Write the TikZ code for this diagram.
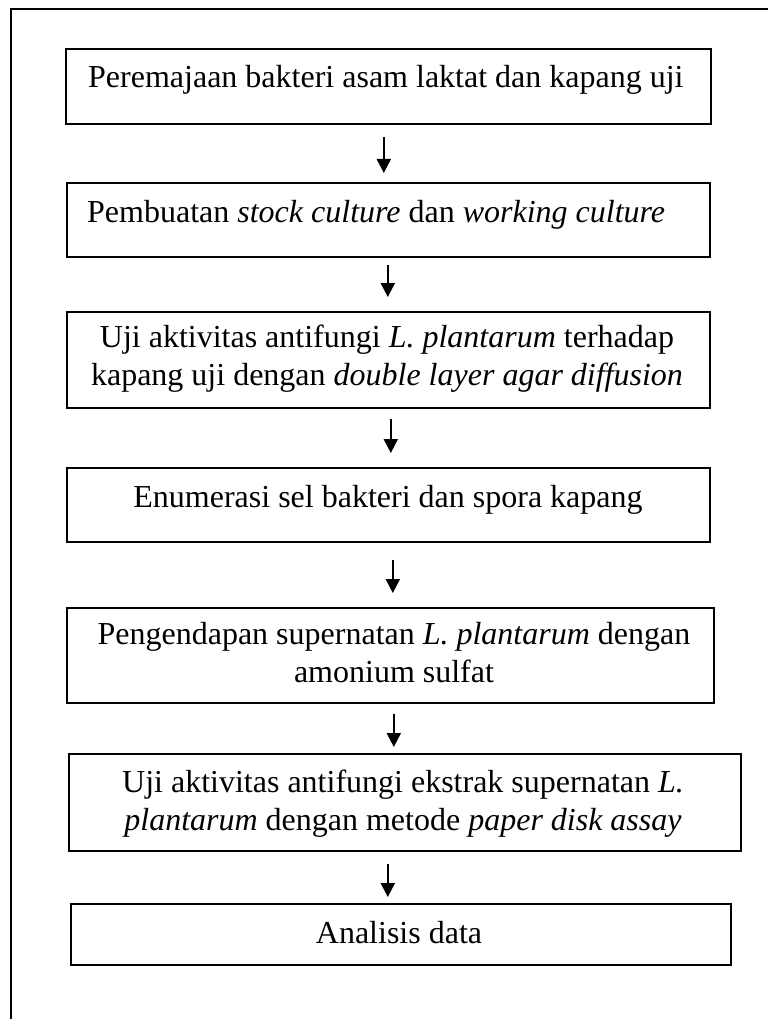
\documentclass[tikz,border=0pt]{standalone}
\usepackage{fontspec}
\setmainfont{Liberation Serif}
\usetikzlibrary{arrows.meta}
\begin{document}
\begin{tikzpicture}[x=1pt,y=-1pt,
  box/.style={draw=black,line width=1.6pt,inner sep=0pt,anchor=north west,fill=none},
  txt/.style={inner sep=0pt,font=\fontsize{32}{37.5}\selectfont,align=center},
  arr/.style={line width=2pt,-{Triangle[width=14pt,length=14pt]}}]
\useasboundingbox[fill=white] (0,0) rectangle (768,1019);
% outer frame
\draw[line width=1.5pt] (11,1019) -- (11,9) -- (768,9);
% boxes
\node[box,minimum width=645pt,minimum height=75pt] (b1) at (65,48) {};
\node[box,minimum width=643pt,minimum height=74pt] (b2) at (66,182) {};
\node[box,minimum width=643pt,minimum height=96pt] (b3) at (66,311) {};
\node[box,minimum width=643pt,minimum height=74pt] (b4) at (66,467) {};
\node[box,minimum width=647pt,minimum height=95pt] (b5) at (66,607) {};
\node[box,minimum width=672pt,minimum height=97pt] (b6) at (68,753) {};
\node[box,minimum width=660pt,minimum height=61pt] (b7) at (70,903) {};
% texts
\node[txt,anchor=base west] (t1) at (88,88) {Peremajaan bakteri asam laktat dan kapang uji};
\node[txt,anchor=base west] (t2) at (87,222) {Pembuatan \textit{stock culture} dan \textit{working culture}};
\node[txt,anchor=base] (t3) at (387,385) {Uji aktivitas antifungi \textit{L. plantarum} terhadap\\kapang uji dengan \textit{double layer agar diffusion}};
\node[txt,anchor=base] (t4) at (388,507) {Enumerasi sel bakteri dan spora kapang};
\node[txt,anchor=base] (t5) at (394,682) {Pengendapan supernatan \textit{L. plantarum} dengan\\amonium sulfat};
\node[txt,anchor=base] (t6) at (403,830) {Uji aktivitas antifungi ekstrak supernatan \textit{L.}\\\textit{plantarum} dengan metode \textit{paper disk assay}};
\node[txt,anchor=base] (t7) at (399,943) {Analisis data};
% arrows
\draw[arr] ([xshift=-4.5pt,yshift=-12pt]b1.south) -- ([xshift=-4.5pt,yshift=9pt]b2.north);
\draw[arr] ([xshift=-0.5pt,yshift=-7pt]b2.south) -- ([xshift=-0.5pt,yshift=14pt]b3.north);
\draw[arr] ([xshift=2.5pt,yshift=-10pt]b3.south) -- ([xshift=2.5pt,yshift=14pt]b4.north);
\draw[arr] ([xshift=4.5pt,yshift=-17pt]b4.south) -- ([xshift=2.5pt,yshift=14pt]b5.north);
\draw[arr] ([xshift=3.5pt,yshift=-10pt]b5.south) -- ([xshift=-11pt,yshift=6pt]b6.north);
\draw[arr] ([xshift=-17pt,yshift=-12pt]b6.south) -- ([xshift=-13pt,yshift=6pt]b7.north);
\end{tikzpicture}
\end{document}
